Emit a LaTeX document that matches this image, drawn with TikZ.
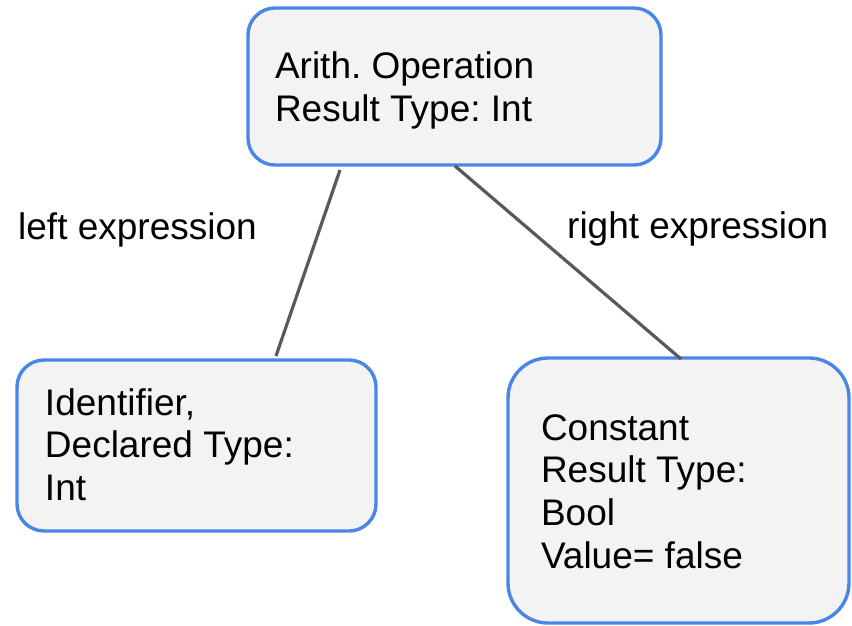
\documentclass[tikz,border=0pt]{standalone}
\usepackage{fontspec}
\setmainfont{Liberation Sans}
\usetikzlibrary{calc}
\frenchspacing
\definecolor{boxblue}{HTML}{4A86E8}
\definecolor{boxfill}{HTML}{F3F3F3}
\definecolor{edgegray}{HTML}{595959}
\tikzset{
  astbox/.style={draw=boxblue, line width=3.4pt, fill=boxfill, rounded corners=27pt,
    anchor=north west, inner sep=0pt, outer sep=0pt},
  boxtext/.style={anchor=base west, inner sep=0pt, outer sep=0pt,
    font=\fontsize{37}{43}\selectfont, text=black},
  edge/.style={draw=edgegray, line width=3.2pt},
  edgelabel/.style={anchor=base west, inner sep=0pt, font=\fontsize{37}{43}\selectfont}
}
\begin{document}
\begin{tikzpicture}[x=1pt,y=-1pt]
\useasboundingbox (0,0) rectangle (852,625);
% tree nodes
\node[astbox, minimum width=413pt, minimum height=157pt] (op) at (248,8) {};
\node[astbox, minimum width=359pt, minimum height=171pt] (ident) at (17,360) {};
\node[astbox, rounded corners=40pt, minimum width=341pt, minimum height=265pt] (const) at (508,358) {};
% node contents
\node[boxtext] (opA) at (275,78) {Arith. Operation};
\node[boxtext] (opB) at (275,121) {Result Type: Int};
\node[boxtext] (idA) at (45,415) {Identifier,};
\node[boxtext] (idB) at (45,457) {Declared Type:};
\node[boxtext] (idC) at (45,500) {Int};
\node[boxtext] (cA) at (541,440) {Constant};
\node[boxtext] (cB) at (541,482) {Result Type:};
\node[boxtext] (cC) at (541,525) {Bool};
\node[boxtext] (cD) at (541,568) {Value= false};
% child edges
\coordinate (lTop) at ($(op.south west)+(92,5)$);
\coordinate (lBot) at ($(ident.north west)+(259,-4)$);
\coordinate (rTop) at ($(op.south west)+(207,1)$);
\coordinate (rBot) at ($(const.north west)+(173,1)$);
\draw[edge] (lTop) -- (lBot);
\draw[edge] (rTop) -- (rBot);
% edge labels
\node[edgelabel] (lblL) at (18,239) {left expression};
\node[edgelabel] (lblR) at (567,238) {right expression};
\end{tikzpicture}
\end{document}
